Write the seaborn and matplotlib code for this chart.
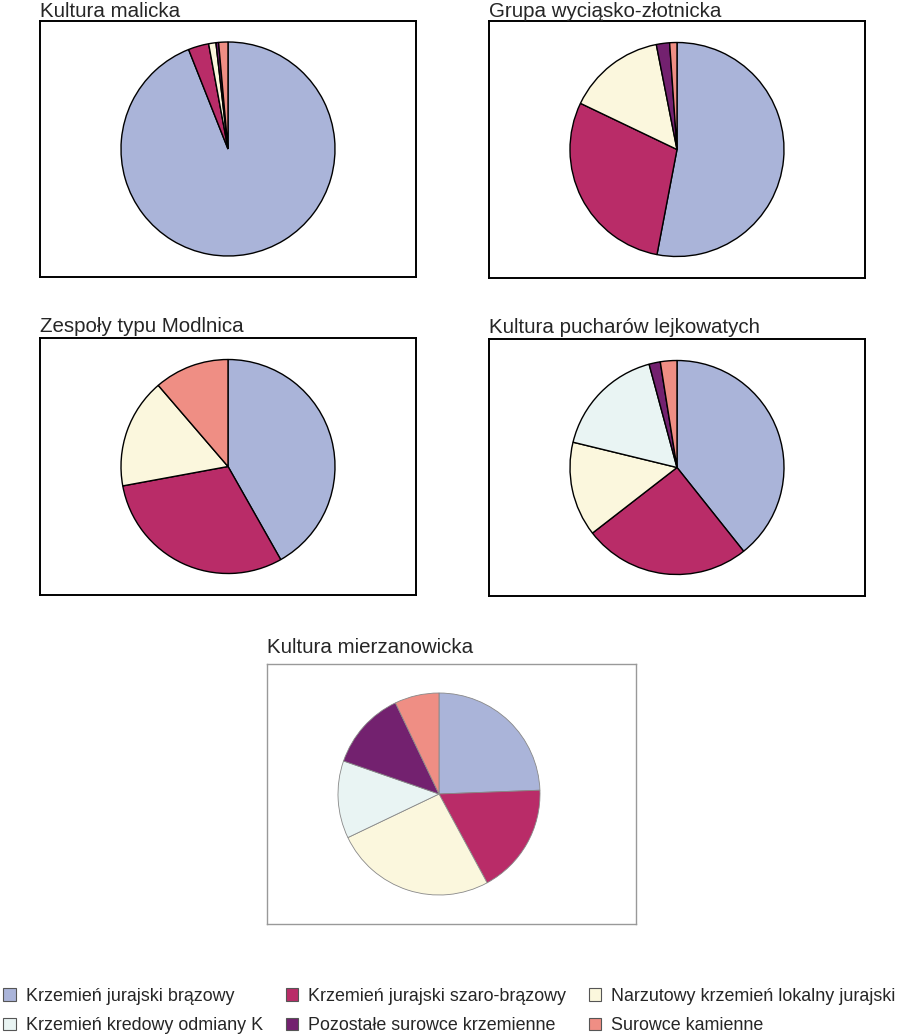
import seaborn as sns
import numpy as np
import matplotlib.pyplot as plt
from matplotlib.patches import Patch

# raw material categories (legend order)
categories = ["Krzemień jurajski brązowy", "Krzemień jurajski szaro-brązowy",
              "Narzutowy krzemień lokalny jurajski", "Krzemień kredowy odmiany K",
              "Pozostałe surowce krzemienne", "Surowce kamienne"]
colors = ["#aab4d9", "#b92c68", "#fbf7dd", "#e9f4f3", "#73216f", "#ef8e84"]

# shares in percent
malicka = [94.0, 3.1, 1.1, 0.0, 0.4, 1.4]
wyciasko = [53.0, 29.1, 14.8, 0.0, 2.0, 1.1]
modlnica = [41.8, 30.3, 16.6, 0.0, 0.0, 11.3]
pucharow = [39.3, 25.2, 14.3, 17.0, 1.7, 2.5]
mierzanowicka = [24.4, 17.7, 25.8, 12.4, 12.6, 7.1]

titles = ["Kultura malicka", "Grupa wyciąsko-złotnicka", "Zespoły typu Modlnica",
          "Kultura pucharów lejkowatych", "Kultura mierzanowicka"]

sns.set_style("white")
plt.rcParams['font.family'] = ['Liberation Sans', 'DejaVu Sans']
palette = sns.color_palette(colors)

W, H = 904, 1036
fig = plt.figure(figsize=(W / 100, H / 100), dpi=100)


def box(x0, y0, x1, y1):
    return [x0 / W, 1 - y1 / H, (x1 - x0) / W, (y1 - y0) / H]


# axes boxes in pixels, pie centre offset and radius
panels = [
    (malicka, box(40, 21, 416, 277), 0, 107, 2.5, "black", 1.0),
    (wyciasko, box(489, 21, 865, 278), 0, 107, 2.5, "black", 1.0),
    (modlnica, box(40, 338, 416, 595), 0, 107, 4.5, "black", 1.0),
    (pucharow, box(489, 339, 865, 596), 0, 107, 4.5, "black", 1.0),
    (mierzanowicka, box(267, 664, 636, 924), -12.5, 101, 8, "#999999", 0.6),
]

for (vals, rect, dx, r, pad, ec, lw), title in zip(panels, titles):
    ax = fig.add_axes(rect)
    vals = np.array(vals)
    keep = vals > 0
    ax.pie(vals[keep], colors=[c for c, k in zip(palette, keep) if k],
           startangle=90, counterclock=False, frame=True,
           wedgeprops=dict(edgecolor="black" if ec == "black" else "#888888",
                           linewidth=lw))
    wpx = rect[2] * W
    hpx = rect[3] * H
    ax.set_xlim(-wpx / 2 / r - dx / r, wpx / 2 / r - dx / r)
    ax.set_ylim(-hpx / 2 / r, hpx / 2 / r)
    ax.set_aspect("auto")
    ax.set_xticks([])
    ax.set_yticks([])
    ax.set_frame_on(True)
    for s in ax.spines.values():
        s.set_visible(True)
        s.set_color(ec)
        s.set_linewidth(1.4 if ec == "black" else 1.0)
    ax.set_title(title, loc="left", fontsize=14.8, pad=pad, x=0.0)

handles = [Patch(facecolor=c, edgecolor="#555555", linewidth=0.8) for c in palette]
order = [0, 3, 1, 4, 2, 5]
fig.legend([handles[i] for i in order], [categories[i] for i in order],
           ncol=3, loc="lower left", bbox_to_anchor=(-0.014, -0.014),
           frameon=False, fontsize=12.9, handlelength=0.7, handleheight=0.7,
           handletextpad=0.56, columnspacing=1.25, labelspacing=0.7)

fig.savefig("out.png", dpi=100)
